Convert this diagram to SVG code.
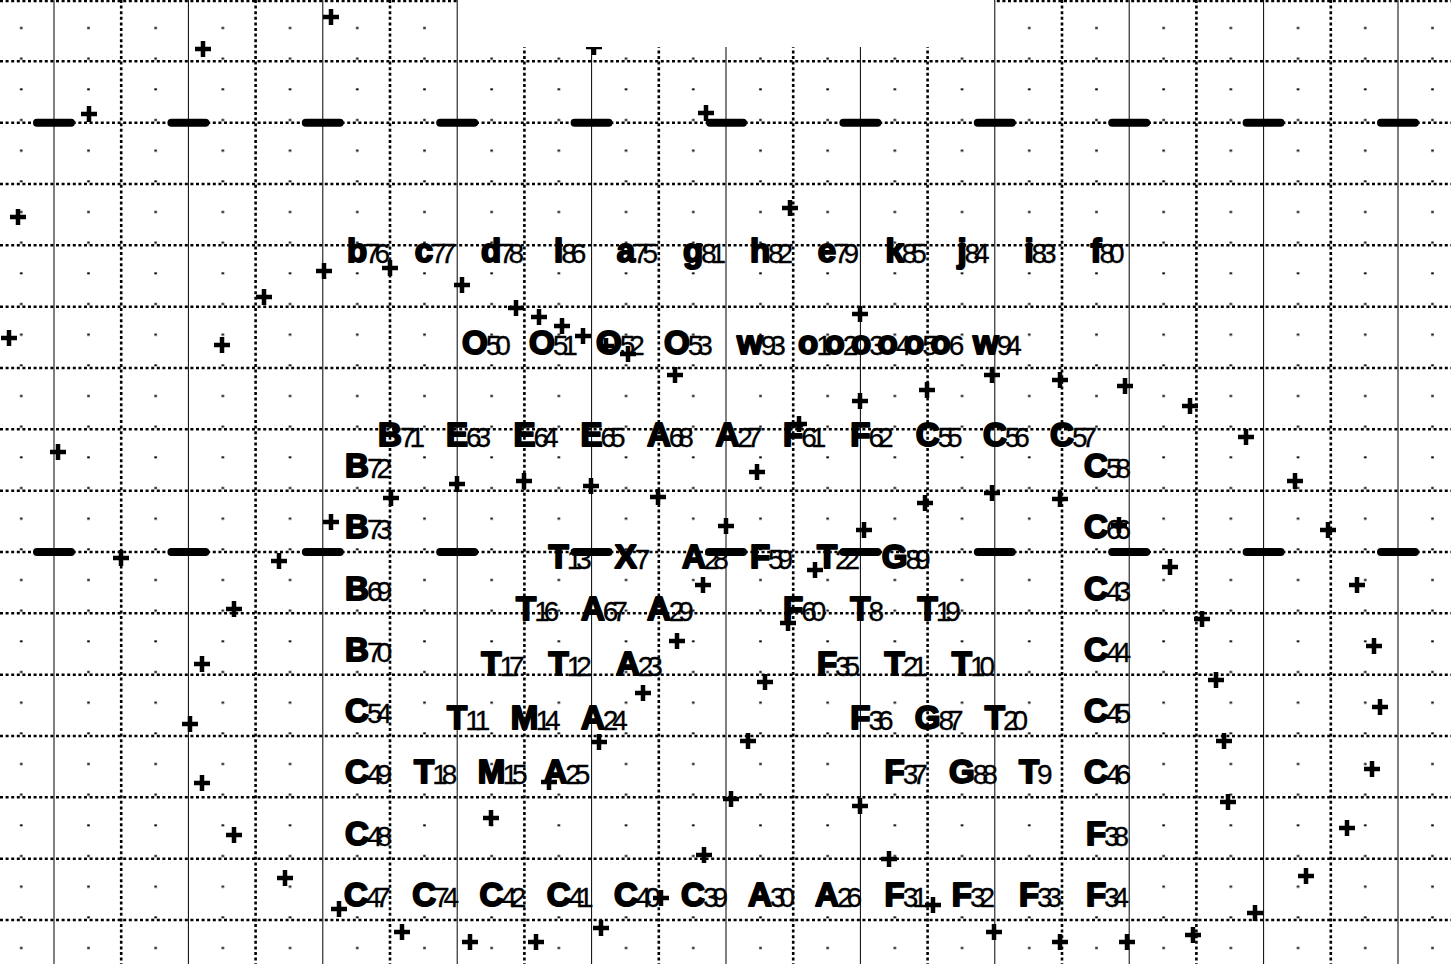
<svg xmlns="http://www.w3.org/2000/svg" xmlns:xlink="http://www.w3.org/1999/xlink" width="1451" height="964" viewBox="0 0 1451 964">
<style>
.sl{stroke:#000;stroke-width:1;fill:none}
.dl{stroke:#000;stroke-width:2.6;stroke-dasharray:3 2.6;fill:none}
.dash{stroke:#000;stroke-width:8;stroke-linecap:round;fill:none}
.pl{stroke:#000;stroke-width:4.5;fill:none}
text{font-family:"Liberation Sans",Arial,sans-serif;font-weight:700;font-size:33px;fill:#000;stroke:#000;stroke-width:2;stroke-linejoin:round}
.n{font-weight:400;font-size:28px;stroke-width:0.3}
</style>
<defs>
<pattern id="dots" x="0" y="0" width="67.2" height="30.667" patternUnits="userSpaceOnUse"><rect x="20" y="27" width="2.5" height="2" fill="#000"/></pattern>
<path id="p" d="M-8,0H8M0,-8V8"/>
</defs>
<rect width="1451" height="964" fill="#fff"/>
<g id="grid">
<rect width="1451" height="964" fill="url(#dots)"/>
<g class="dl">
<path d="M0,1H1451M0,61.3H1451M0,122.7H1451M0,184H1451M0,245.3H1451M0,306.7H1451M0,368H1451M0,429.3H1451M0,490.7H1451M0,552H1451M0,613.3H1451M0,674.7H1451M0,736H1451M0,797.3H1451M0,858.7H1451M0,920H1451"/>
<path d="M121.2,0V964M255.6,0V964M390,0V964M524.4,0V964M658.8,0V964M793.2,0V964M927.6,0V964M1062,0V964M1196.4,0V964M1330.8,0V964"/>
</g>
<path class="sl" d="M54,0V964M188.4,0V964M322.8,0V964M591.6,0V964M726,0V964M860.4,0V964M1129.2,0V964M1263.6,0V964M1398,0V964"/>
</g>
<use href="#p" class="pl" x="594" y="47"/>
<rect id="blank" x="457.8" y="0" width="536.4" height="47" fill="#fff"/>
<path class="sl" d="M457.2,0V964M994.8,0V964"/>
<g id="connectors">
<path class="dash" d="M37,122.7H71M171.4,122.7H205.4M305.8,122.7H339.8M440.2,122.7H474.2M574.6,122.7H608.6M710,122.7H743M843.4,122.7H877.4M977.8,122.7H1011.8M1112.2,122.7H1146.2M1246.6,122.7H1280.6M1381,122.7H1415"/>
<path class="dash" d="M37,552H71M171.4,552H205.4M305.8,552H339.8M440.2,552H474.2M574.6,552H608.6M709,552H743M843.4,552H877.4M977.8,552H1011.8M1112.2,552H1146.2M1246.6,552H1280.6M1381,552H1415"/>
</g>
<g id="labels">
<g id="n76"><text x="346.9" y="262">b<tspan class="n" x="365.1 374.6" dy="1">76</tspan></text></g>
<g id="n77"><text x="414.8" y="262">c<tspan class="n" x="431.1 440.6" dy="1">77</tspan></text></g>
<g id="n78"><text x="480.9" y="262">d<tspan class="n" x="499.1 508.6" dy="1">78</tspan></text></g>
<g id="n86"><text x="554" y="262">l<tspan class="n" x="561.2 570.7" dy="1">86</tspan></text></g>
<g id="n75"><text x="616.8" y="262">a<tspan class="n" x="633.1 642.6" dy="1">75</tspan></text></g>
<g id="n81"><text x="682.9" y="262">g<tspan class="n" x="701.1 710.6" dy="1">81</tspan></text></g>
<g id="n82"><text x="749.9" y="262">h<tspan class="n" x="768.1 777.6" dy="1">82</tspan></text></g>
<g id="n79"><text x="817.8" y="262">e<tspan class="n" x="834.1 843.6" dy="1">79</tspan></text></g>
<g id="n85"><text x="885.4" y="262">k<tspan class="n" x="901.7 911.2" dy="1">85</tspan></text></g>
<g id="n84"><text x="957.4" y="262">j<tspan class="n" x="964.6 974.1" dy="1">84</tspan></text></g>
<g id="n83"><text x="1024.4" y="262">i<tspan class="n" x="1031.6 1041.1" dy="1">83</tspan></text></g>
<g id="n80"><text x="1090.5" y="262">f<tspan class="n" x="1099.5 1109" dy="1">80</tspan></text></g>

<g id="n50"><text x="462" y="354">O<tspan class="n" x="485.7 495.2" dy="1">50</tspan></text></g>
<g id="n51"><text x="529" y="354">O<tspan class="n" x="552.7 562.2" dy="1">51</tspan></text></g>
<g id="n52"><text x="596" y="354">O<tspan class="n" x="619.7 629.2" dy="1">52</tspan></text></g>
<g id="n53"><text x="664" y="354">O<tspan class="n" x="687.7 697.2" dy="1">53</tspan></text></g>
<g id="n93"><text x="737" y="354">w<tspan class="n" x="760.7 770.2" dy="1">93</tspan></text></g>
<g id="n1"><text x="798" y="354">o<tspan class="n" x="816.2" dy="1">1</tspan></text></g>
<g id="n2"><text x="824.5" y="354">o<tspan class="n" x="842.7" dy="1">2</tspan></text></g>
<g id="n3"><text x="851" y="354">o<tspan class="n" x="869.2" dy="1">3</tspan></text></g>
<g id="n4"><text x="877.5" y="354">o<tspan class="n" x="895.7" dy="1">4</tspan></text></g>
<g id="n5"><text x="904" y="354">o<tspan class="n" x="922.2" dy="1">5</tspan></text></g>
<g id="n6"><text x="930.5" y="354">o<tspan class="n" x="948.7" dy="1">6</tspan></text></g>
<g id="n94"><text x="973" y="354">w<tspan class="n" x="996.7 1006.2" dy="1">94</tspan></text></g>

<g id="n71"><text x="378.1" y="446">B<tspan class="n" x="399.9 409.4" dy="1">71</tspan></text></g>
<g id="n63"><text x="446" y="446">E<tspan class="n" x="466 475.5" dy="1">63</tspan></text></g>
<g id="n64"><text x="513.4" y="446">E<tspan class="n" x="533.4 542.9" dy="1">64</tspan></text></g>
<g id="n65"><text x="580.6" y="446">E<tspan class="n" x="600.6 610.1" dy="1">65</tspan></text></g>
<g id="n68"><text x="646.9" y="446">A<tspan class="n" x="668.7 678.2" dy="1">68</tspan></text></g>
<g id="n27"><text x="715.5" y="446">A<tspan class="n" x="737.3 746.8" dy="1">27</tspan></text></g>
<g id="n61"><text x="783.1" y="446">F<tspan class="n" x="801.3 810.8" dy="1">61</tspan></text></g>
<g id="n62"><text x="850.3" y="446">F<tspan class="n" x="868.5 878" dy="1">62</tspan></text></g>
<g id="n55"><text x="915.7" y="446">C<tspan class="n" x="937.5 947" dy="1">55</tspan></text></g>
<g id="n56"><text x="982.9" y="446">C<tspan class="n" x="1004.7 1014.2" dy="1">56</tspan></text></g>
<g id="n57"><text x="1050.1" y="446">C<tspan class="n" x="1071.9 1081.4" dy="1">57</tspan></text></g>

<g id="n72"><text x="345.1" y="477">B<tspan class="n" x="366.9 376.4" dy="1">72</tspan></text></g>
<g id="n58"><text x="1084.1" y="477">C<tspan class="n" x="1105.9 1115.4" dy="1">58</tspan></text></g>
<g id="n73"><text x="345.1" y="538">B<tspan class="n" x="366.9 376.4" dy="1">73</tspan></text></g>
<g id="n66"><text x="1084.1" y="538">C<tspan class="n" x="1105.9 1115.4" dy="1">66</tspan></text></g>

<g id="n13"><text x="548.5" y="568">T<tspan class="n" x="566.7 576.2" dy="1">13</tspan></text></g>
<g id="n7"><text x="614.8" y="568">X<tspan class="n" x="634.8" dy="1">7</tspan></text></g>
<g id="n28"><text x="682" y="568">A<tspan class="n" x="703.8 713.3" dy="1">28</tspan></text></g>
<g id="n59"><text x="749.9" y="568">F<tspan class="n" x="768.1 777.6" dy="1">59</tspan></text></g>
<g id="n22"><text x="816.9" y="568">T<tspan class="n" x="835.1 844.6" dy="1">22</tspan></text></g>
<g id="n89"><text x="881.8" y="568">G<tspan class="n" x="905.5 915" dy="1">89</tspan></text></g>

<g id="n69"><text x="345.1" y="600">B<tspan class="n" x="366.9 376.4" dy="1">69</tspan></text></g>
<g id="n43"><text x="1084.1" y="600">C<tspan class="n" x="1105.9 1115.4" dy="1">43</tspan></text></g>

<g id="n16"><text x="516" y="620">T<tspan class="n" x="534.2 543.7" dy="1">16</tspan></text></g>
<g id="n67"><text x="581" y="620">A<tspan class="n" x="602.8 612.3" dy="1">67</tspan></text></g>
<g id="n29"><text x="646.9" y="620">A<tspan class="n" x="668.7 678.2" dy="1">29</tspan></text></g>
<g id="n60"><text x="783.1" y="620">F<tspan class="n" x="801.3 810.8" dy="1">60</tspan></text></g>
<g id="n8"><text x="850.3" y="620">T<tspan class="n" x="868.5" dy="1">8</tspan></text></g>
<g id="n19"><text x="917.5" y="620">T<tspan class="n" x="935.7 945.2" dy="1">19</tspan></text></g>

<g id="n70"><text x="345.1" y="661">B<tspan class="n" x="366.9 376.4" dy="1">70</tspan></text></g>
<g id="n44"><text x="1084.1" y="661">C<tspan class="n" x="1105.9 1115.4" dy="1">44</tspan></text></g>

<g id="n17"><text x="481.3" y="675">T<tspan class="n" x="499.5 509" dy="1">17</tspan></text></g>
<g id="n12"><text x="548.5" y="675">T<tspan class="n" x="566.7 576.2" dy="1">12</tspan></text></g>
<g id="n23"><text x="616" y="675">A<tspan class="n" x="637.8 647.3" dy="1">23</tspan></text></g>
<g id="n35"><text x="816.9" y="675">F<tspan class="n" x="835.1 844.6" dy="1">35</tspan></text></g>
<g id="n21"><text x="884.5" y="675">T<tspan class="n" x="902.7 912.2" dy="1">21</tspan></text></g>
<g id="n10"><text x="951.7" y="675">T<tspan class="n" x="969.9 979.4" dy="1">10</tspan></text></g>

<g id="n54"><text x="345.1" y="722">C<tspan class="n" x="366.9 376.4" dy="1">54</tspan></text></g>
<g id="n45"><text x="1084.1" y="722">C<tspan class="n" x="1105.9 1115.4" dy="1">45</tspan></text></g>

<g id="n11"><text x="447.1" y="729">T<tspan class="n" x="465.3 474.8" dy="1">11</tspan></text></g>
<g id="n14"><text x="510.7" y="729">M<tspan class="n" x="535.5 545" dy="1">14</tspan></text></g>
<g id="n24"><text x="581" y="729">A<tspan class="n" x="602.8 612.3" dy="1">24</tspan></text></g>
<g id="n36"><text x="850.3" y="729">F<tspan class="n" x="868.5 878" dy="1">36</tspan></text></g>
<g id="n87"><text x="914.8" y="729">G<tspan class="n" x="938.5 948" dy="1">87</tspan></text></g>
<g id="n20"><text x="984.7" y="729">T<tspan class="n" x="1002.9 1012.4" dy="1">20</tspan></text></g>

<g id="n49"><text x="345.1" y="783">C<tspan class="n" x="366.9 376.4" dy="1">49</tspan></text></g>
<g id="n18"><text x="414.1" y="783">T<tspan class="n" x="432.3 441.8" dy="1">18</tspan></text></g>
<g id="n15"><text x="477.7" y="783">M<tspan class="n" x="502.5 512" dy="1">15</tspan></text></g>
<g id="n25"><text x="543.5" y="783">A<tspan class="n" x="565.3 574.8" dy="1">25</tspan></text></g>
<g id="n37"><text x="884.5" y="783">F<tspan class="n" x="902.7 912.2" dy="1">37</tspan></text></g>
<g id="n88"><text x="949" y="783">G<tspan class="n" x="972.7 982.2" dy="1">88</tspan></text></g>
<g id="n9"><text x="1018.9" y="783">T<tspan class="n" x="1037.1" dy="1">9</tspan></text></g>
<g id="n46"><text x="1084.1" y="783">C<tspan class="n" x="1105.9 1115.4" dy="1">46</tspan></text></g>

<g id="n48"><text x="345.1" y="845">C<tspan class="n" x="366.9 376.4" dy="1">48</tspan></text></g>
<g id="n38"><text x="1085.9" y="845">F<tspan class="n" x="1104.1 1113.6" dy="1">38</tspan></text></g>

<g id="n47"><text x="344" y="906">C<tspan class="n" x="365.8 375.3" dy="1">47</tspan></text></g>
<g id="n74"><text x="412.3" y="906">C<tspan class="n" x="434.1 443.6" dy="1">74</tspan></text></g>
<g id="n42"><text x="479.5" y="906">C<tspan class="n" x="501.3 510.8" dy="1">42</tspan></text></g>
<g id="n41"><text x="546.7" y="906">C<tspan class="n" x="568.5 578" dy="1">41</tspan></text></g>
<g id="n40"><text x="613.9" y="906">C<tspan class="n" x="635.7 645.2" dy="1">40</tspan></text></g>
<g id="n39"><text x="681.1" y="906">C<tspan class="n" x="702.9 712.4" dy="1">39</tspan></text></g>
<g id="n30"><text x="748.1" y="906">A<tspan class="n" x="769.9 779.4" dy="1">30</tspan></text></g>
<g id="n26"><text x="815.1" y="906">A<tspan class="n" x="836.9 846.4" dy="1">26</tspan></text></g>
<g id="n31"><text x="884.5" y="906">F<tspan class="n" x="902.7 912.2" dy="1">31</tspan></text></g>
<g id="n32"><text x="951.7" y="906">F<tspan class="n" x="969.9 979.4" dy="1">32</tspan></text></g>
<g id="n33"><text x="1018.9" y="906">F<tspan class="n" x="1037.1 1046.6" dy="1">33</tspan></text></g>
<g id="n34"><text x="1085.9" y="906">F<tspan class="n" x="1104.1 1113.6" dy="1">34</tspan></text></g>
</g>
<g id="marks" class="pl">
<use href="#p" x="331" y="17"/><use href="#p" x="203" y="49"/><use href="#p" x="89" y="114"/><use href="#p" x="706" y="113"/>
<use href="#p" x="18" y="217"/><use href="#p" x="790" y="208"/><use href="#p" x="324" y="271"/><use href="#p" x="390" y="268"/>
<use href="#p" x="462" y="285"/><use href="#p" x="264" y="297"/><use href="#p" x="516" y="308"/><use href="#p" x="539" y="317"/>
<use href="#p" x="562" y="326"/><use href="#p" x="583" y="336"/><use href="#p" x="606" y="346"/><use href="#p" x="628" y="354"/>
<use href="#p" x="9" y="338"/><use href="#p" x="222" y="345"/><use href="#p" x="860" y="314"/><use href="#p" x="675" y="375"/>
<use href="#p" x="992" y="375"/><use href="#p" x="1060" y="380"/><use href="#p" x="1125" y="386"/><use href="#p" x="927" y="390"/>
<use href="#p" x="860" y="401"/><use href="#p" x="1190" y="406"/><use href="#p" x="1246" y="437"/><use href="#p" x="58" y="452"/>
<use href="#p" x="799" y="424"/>
<use href="#p" x="757" y="472"/><use href="#p" x="1295" y="481"/><use href="#p" x="391" y="498"/><use href="#p" x="457" y="484"/>
<use href="#p" x="524" y="481"/><use href="#p" x="591" y="486"/><use href="#p" x="658" y="497"/><use href="#p" x="925" y="503"/>
<use href="#p" x="992" y="493"/><use href="#p" x="1060" y="499"/><use href="#p" x="331" y="522"/><use href="#p" x="726" y="526"/>
<use href="#p" x="864" y="530"/><use href="#p" x="1119" y="525"/><use href="#p" x="1328" y="530"/><use href="#p" x="121" y="558"/>
<use href="#p" x="279" y="561"/><use href="#p" x="1170" y="567"/><use href="#p" x="815" y="570"/><use href="#p" x="703" y="585"/>
<use href="#p" x="1357" y="585"/><use href="#p" x="234" y="609"/><use href="#p" x="1202" y="619"/><use href="#p" x="788" y="623"/>
<use href="#p" x="677" y="641"/><use href="#p" x="1374" y="646"/><use href="#p" x="202" y="664"/><use href="#p" x="765" y="682"/>
<use href="#p" x="1216" y="680"/><use href="#p" x="643" y="693"/><use href="#p" x="1380" y="707"/><use href="#p" x="190" y="724"/>
<use href="#p" x="599" y="742"/><use href="#p" x="748" y="741"/><use href="#p" x="1224" y="741"/><use href="#p" x="1372" y="769"/>
<use href="#p" x="202" y="783"/><use href="#p" x="549" y="782"/><use href="#p" x="731" y="799"/><use href="#p" x="860" y="806"/>
<use href="#p" x="1228" y="802"/><use href="#p" x="491" y="818"/><use href="#p" x="234" y="835"/><use href="#p" x="1347" y="828"/>
<use href="#p" x="704" y="855"/><use href="#p" x="889" y="859"/><use href="#p" x="285" y="878"/><use href="#p" x="1306" y="876"/>
<use href="#p" x="339" y="909"/><use href="#p" x="661" y="898"/><use href="#p" x="933" y="905"/><use href="#p" x="1255" y="913"/>
<use href="#p" x="402" y="932"/><use href="#p" x="470" y="942"/><use href="#p" x="536" y="942"/><use href="#p" x="601" y="928"/>
<use href="#p" x="994" y="932"/><use href="#p" x="1060" y="942"/><use href="#p" x="1127" y="942"/><use href="#p" x="1193" y="935"/>
</g>
</svg>
